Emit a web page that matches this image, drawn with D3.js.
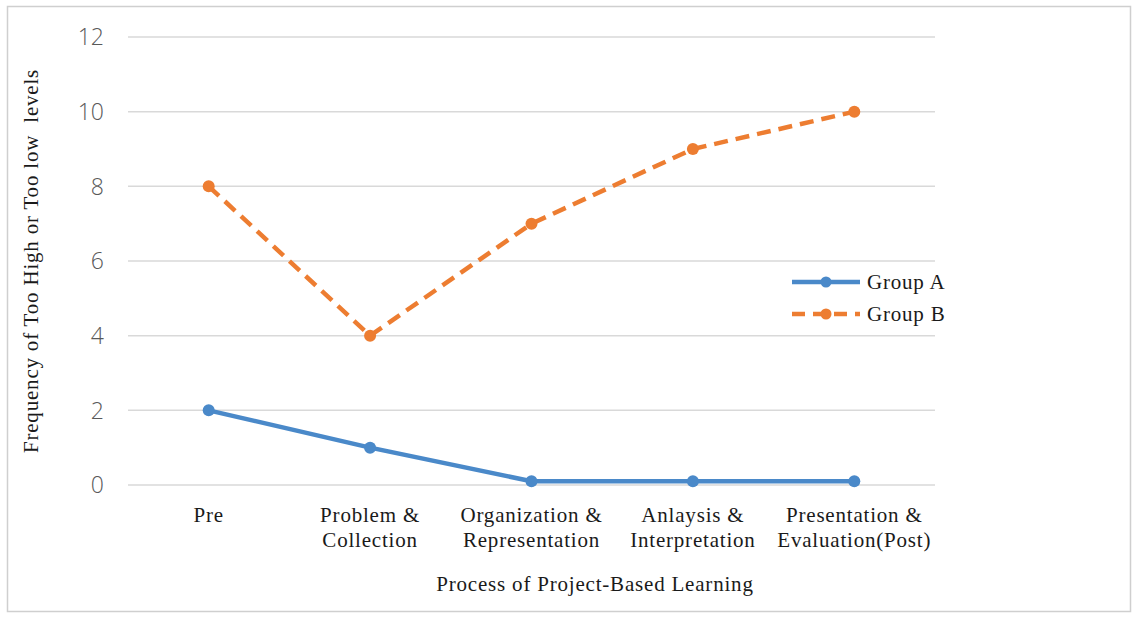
<!DOCTYPE html>
<html>
<head>
<meta charset="utf-8">
<script src="https://d3js.org/d3.v7.min.js"></script>
<style>
  body { margin: 0; background: #fff; }
  svg { display: block; }
</style>
</head>
<body>
<svg id="chart" width="1136" height="617"></svg>
<script>
const categories = [
  ["Pre"],
  ["Problem &", "Collection"],
  ["Organization &", "Representation"],
  ["Anlaysis &", "Interpretation"],
  ["Presentation &", "Evaluation(Post)"]
];
const groupA = [2, 1, 0.1, 0.1, 0.1];
const groupB = [8, 4, 7, 9, 10];
const yTicks = [0, 2, 4, 6, 8, 10, 12];
const seriesNames = ["Group A", "Group B"];

const svg = d3.select("#chart");
const serif = "'Liberation Serif', 'Times New Roman', serif";

// frame around the figure
svg.append("rect")
  .attr("x", 7.5).attr("y", 6.5).attr("width", 1123).attr("height", 605)
  .attr("fill", "none").attr("stroke", "#cfcfcf").attr("stroke-width", 1.5);

const x = d3.scaleBand().domain(d3.range(categories.length)).range([128, 935]);
const y = d3.scaleLinear().domain([0, 12]).range([485, 37]);

// gridlines
svg.append("g").selectAll("line").data(yTicks).join("line")
  .attr("x1", 128).attr("x2", 935)
  .attr("y1", d => y(d)).attr("y2", d => y(d))
  .attr("stroke", "#d9d9d9").attr("stroke-width", 1.5);

// y tick labels
svg.append("g").selectAll("text").data(yTicks).join("text")
  .attr("x", 104).attr("y", d => y(d)).attr("dy", "0.36em")
  .attr("text-anchor", "end")
  .attr("font-family", "'Open Sans', sans-serif").attr("font-size", 23)
  .attr("font-weight", 300)
  .attr("fill", "#595959")
  .text(d => d);

// x tick labels
const xl = svg.append("g").selectAll("text").data(categories).join("text")
  .attr("x", (d, i) => x(i) + x.bandwidth() / 2)
  .attr("y", 522)
  .attr("text-anchor", "middle")
  .attr("font-family", serif).attr("font-size", 21)
  .attr("letter-spacing", 0.8)
  .attr("fill", "#1a1a1a");
xl.selectAll("tspan").data(d => d).join("tspan")
  .attr("x", function() { return this.parentNode.getAttribute("x"); })
  .attr("dy", (d, i) => i === 0 ? 0 : 25)
  .text(d => d);

// axis titles
svg.append("text")
  .attr("x", 595).attr("y", 591)
  .attr("text-anchor", "middle")
  .attr("font-family", serif).attr("font-size", 21).attr("letter-spacing", 0.8)
  .attr("fill", "#1a1a1a")
  .text("Process of Project-Based Learning");

svg.append("text")
  .attr("transform", "translate(38,261) rotate(-90)")
  .attr("text-anchor", "middle")
  .attr("font-family", serif).attr("font-size", 21).attr("letter-spacing", 0.8)
  .attr("fill", "#1a1a1a")
  .attr("xml:space", "preserve")
  .text("Frequency of Too High or Too low  levels");

const line = d3.line()
  .x((d, i) => x(i) + x.bandwidth() / 2)
  .y(d => y(d));

const styles = [
  { data: groupA, color: "#4a89c9", dash: null },
  { data: groupB, color: "#ed7d31", dash: "14,8" }
];

styles.forEach(s => {
  svg.append("path").datum(s.data)
    .attr("d", line)
    .attr("fill", "none")
    .attr("stroke", s.color).attr("stroke-width", 4.5)
    .attr("stroke-dasharray", s.dash)
    .attr("stroke-linejoin", "round");
  svg.append("g").selectAll("circle").data(s.data).join("circle")
    .attr("cx", (d, i) => x(i) + x.bandwidth() / 2)
    .attr("cy", d => y(d))
    .attr("r", 6)
    .attr("fill", s.color);
});

// legend
const legend = svg.append("g");
styles.forEach((s, i) => {
  const ly = 282 + i * 32;
  legend.append("line")
    .attr("x1", 792).attr("x2", 860).attr("y1", ly).attr("y2", ly)
    .attr("stroke", s.color).attr("stroke-width", 4.5)
    .attr("stroke-dasharray", s.dash ? "13,8" : null);
  legend.append("circle").attr("cx", 826).attr("cy", ly).attr("r", 5.5).attr("fill", s.color);
  legend.append("text")
    .attr("x", 867).attr("y", ly).attr("dy", "0.35em")
    .attr("font-family", serif).attr("font-size", 21).attr("letter-spacing", 0.8)
    .attr("fill", "#1a1a1a")
    .text(seriesNames[i]);
});
</script>
</body>
</html>
